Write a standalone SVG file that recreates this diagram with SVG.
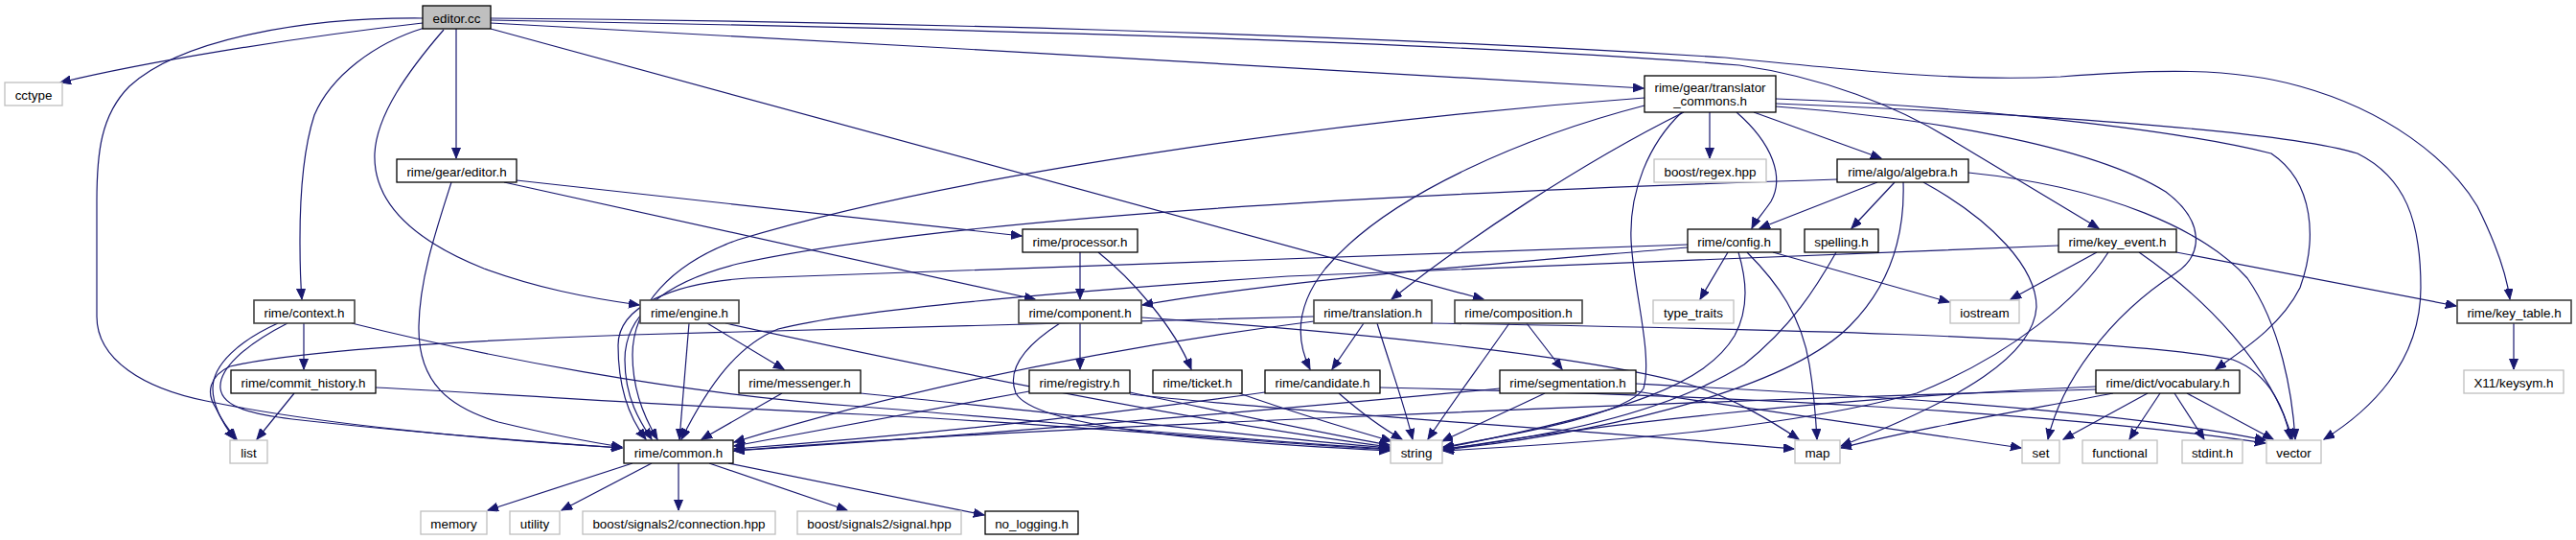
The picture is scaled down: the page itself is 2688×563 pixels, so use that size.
<svg xmlns="http://www.w3.org/2000/svg" width="2688" height="563" viewBox="0 0 2688 563">
<style>
text{font-family:"Liberation Sans",Arial,sans-serif;font-size:13.4px;text-anchor:middle;fill:#000}
.n rect{fill:#fff;stroke:#000;stroke-width:1.3}
.g rect{fill:#fff;stroke:#bfbfbf;stroke-width:1.3}
.d rect{fill:#fff;stroke:#404040;stroke-width:1.6}
.r rect{fill:#bfbfbf;stroke:#000;stroke-width:1.3}
#edges path{fill:none;stroke:#191970;stroke-width:1.2;marker-end:url(#a)}
</style>
<defs>
<marker id="a" markerWidth="12" markerHeight="10" refX="11" refY="4.5" orient="auto" markerUnits="userSpaceOnUse"><path d="M0,0 L11,4.5 L0,9 z" fill="#191970" stroke="#191970" stroke-width="1"/></marker>
</defs>
<rect width="2688" height="563" fill="#fff"/>
<g id="edges">
<path d="M441,24 C300,40 150,65 63,86"/>
<path d="M441,19 C320,18 190,40 135,90 C105,120 101,160 101,210 L101,330 C101,375 150,405 215,418 C330,442 500,458 649,467"/>
<path d="M443,29 C390,45 345,80 328,120 C315,160 313,210 313,250 C313,280 314,300 315,312"/>
<path d="M463,31 C425,75 393,120 391,160 C389,210 430,250 505,280 C560,300 610,310 667,318"/>
<path d="M476,30 L476,165"/>
<path d="M512,24 C900,44 1400,74 1715,92"/>
<path d="M512,30 L1548,312"/>
<path d="M512,21 C900,28 1500,42 1815,68 C1900,80 1980,110 2040,148 C2110,190 2160,220 2190,238"/>
<path d="M512,19 C900,22 1400,35 1800,60 C1950,75 2050,85 2150,80 C2250,72 2330,70 2400,90 C2490,115 2555,165 2585,215 C2605,255 2616,290 2619,312"/>
<path d="M471,190 C455,240 438,290 437,340 C436,400 470,425 520,440 C570,452 610,460 649,466"/>
<path d="M539,188 L1066,246"/>
<path d="M526,190 L1080,312"/>
<path d="M1127,263 L1127,312"/>
<path d="M1146,263 C1180,290 1225,340 1243,385"/>
<path d="M1127,337 L1127,385"/>
<path d="M1106,337 C1070,360 1050,385 1060,410 C1080,445 1250,460 1450,470"/>
<path d="M1191,331 C1400,345 1650,370 1760,400 C1810,415 1850,440 1877,458"/>
<path d="M1074,408 C950,430 850,450 766,465"/>
<path d="M1179,409 C1280,430 1380,452 1450,464"/>
<path d="M1179,411 C1350,430 1650,448 1872,468"/>
<path d="M1293,410 C1350,430 1410,448 1452,460"/>
<path d="M1397,410 C1420,430 1445,448 1463,458"/>
<path d="M1320,409 C1100,440 900,458 766,468"/>
<path d="M1440,404 C1800,412 2150,430 2364,462"/>
<path d="M1612,410 C1570,430 1530,448 1505,460"/>
<path d="M1565,405 C1300,430 1000,455 766,470"/>
<path d="M1707,408 C1850,430 2000,450 2109,467"/>
<path d="M1707,400 C1900,410 2200,425 2364,459"/>
<path d="M1423,337 L1390,385"/>
<path d="M1437,337 C1450,380 1465,420 1474,458"/>
<path d="M1371,330 C1100,337 850,345 660,349 C450,356 300,368 240,382 C218,392 215,410 225,425 C232,440 240,450 247,458"/>
<path d="M1371,335 C1100,370 900,420 766,461"/>
<path d="M1494,337 C1800,342 2200,350 2330,375 C2370,390 2385,430 2390,458"/>
<path d="M1575,337 C1545,380 1515,420 1490,458"/>
<path d="M1593,337 L1630,385"/>
<path d="M1803,263 L1774,312"/>
<path d="M1814,263 C1822,290 1826,320 1810,350 C1780,400 1700,430 1506,467"/>
<path d="M1823,263 C1855,295 1880,330 1888,380 C1893,410 1895,440 1896,458"/>
<path d="M1850,263 L2034,315"/>
<path d="M1761,258 C1600,272 1350,290 1192,318"/>
<path d="M1761,255 L780,290 C700,295 645,320 645,360 C645,410 660,440 674,458"/>
<path d="M1784,117 L1784,165"/>
<path d="M1812,117 C1850,150 1862,185 1848,210 C1840,222 1832,230 1828,238"/>
<path d="M1830,117 L1963,165"/>
<path d="M1755,117 C1720,150 1700,200 1702,250 C1704,300 1725,370 1715,405 C1700,430 1600,450 1506,466"/>
<path d="M1716,102 C1400,125 1000,180 770,250 C700,275 660,320 660,370 C660,410 675,440 686,458"/>
<path d="M1757,117 C1650,170 1530,250 1452,312"/>
<path d="M1716,110 C1600,140 1450,200 1383,280 C1355,315 1350,350 1367,385"/>
<path d="M1853,103 C2000,108 2250,130 2370,160 C2415,190 2418,250 2400,300 C2380,340 2340,365 2312,385"/>
<path d="M1853,108 C2100,118 2380,135 2460,160 C2510,185 2526,230 2526,300 C2526,380 2470,430 2425,458"/>
<path d="M1853,111 C2000,122 2180,150 2260,200 C2300,230 2300,265 2270,285 C2200,330 2150,400 2137,458"/>
<path d="M1959,190 L1836,238"/>
<path d="M1977,190 L1932,238"/>
<path d="M1986,190 C1988,250 1970,300 1930,340 C1870,400 1700,448 1506,469"/>
<path d="M1917,187 C1500,200 1000,225 770,275 C690,295 652,330 652,375 C652,415 668,440 680,458"/>
<path d="M2007,190 C2080,230 2125,280 2125,320 C2122,370 2050,415 1921,465"/>
<path d="M2054,180 C2200,195 2300,240 2345,290 C2380,340 2392,410 2395,458"/>
<path d="M1916,263 C1895,300 1870,340 1820,380 C1740,430 1620,455 1506,468"/>
<path d="M2188,263 L2098,312"/>
<path d="M2200,263 C2170,310 2100,370 2000,410 C1850,450 1650,462 1506,470"/>
<path d="M2232,263 C2300,310 2370,380 2392,458"/>
<path d="M2271,263 L2563,319"/>
<path d="M2148,256 L1344,288 C1170,300 900,320 812,343 C770,360 740,400 711,458"/>
<path d="M2623,337 L2623,385"/>
<path d="M2241,410 L2153,458"/>
<path d="M2254,410 L2222,458"/>
<path d="M2269,410 L2300,458"/>
<path d="M2282,410 L2372,458"/>
<path d="M2205,410 C2100,430 2000,447 1921,467"/>
<path d="M2187,403 C1900,415 1650,445 1506,469"/>
<path d="M2187,406 C1700,420 1000,450 766,470"/>
<path d="M816,410 L732,458"/>
<path d="M898,410 C1100,430 1300,455 1450,467"/>
<path d="M719,337 L709,458"/>
<path d="M738,337 L818,385"/>
<path d="M757,337 C1000,390 1250,440 1450,466"/>
<path d="M290,337 C250,355 222,380 222,405 C222,425 235,445 245,458"/>
<path d="M300,337 C255,360 228,385 230,405 C232,425 265,432 305,437 C420,450 550,460 649,467"/>
<path d="M317,337 L317,385"/>
<path d="M367,337 C500,370 700,410 900,424 C1100,440 1300,460 1450,468"/>
<path d="M307,410 L268,458"/>
<path d="M392,404 C550,412 680,422 900,432 C1100,442 1300,460 1450,469"/>
<path d="M660,483 L509,532"/>
<path d="M680,483 L586,532"/>
<path d="M708,483 L708,532"/>
<path d="M740,483 L884,532"/>
<path d="M760,483 L1027,537"/>
</g>
<g id="editor_cc" class="r"><rect x="441" y="6" width="71" height="24"/><text x="476.5" y="23.5">editor.cc</text></g>
<g id="cctype" class="g"><rect x="5" y="86" width="60" height="24"/><text x="35" y="103.5">cctype</text></g>
<g id="gear_editor_h" class="n"><rect x="414" y="166" width="125" height="24"/><text x="476.5" y="183.5">rime/gear/editor.h</text></g>
<g id="context_h" class="d"><rect x="265" y="313" width="105" height="24"/><text x="317.5" y="330.5">rime/context.h</text></g>
<g id="commit_history_h" class="n"><rect x="241" y="386" width="151" height="24"/><text x="316.5" y="403.5">rime/commit_history.h</text></g>
<g id="list" class="g"><rect x="240" y="459" width="39" height="24"/><text x="259.5" y="476.5">list</text></g>
<g id="common_h" class="n"><rect x="651" y="459" width="114" height="24"/><text x="708" y="476.5">rime/common.h</text></g>
<g id="memory" class="g"><rect x="439" y="533" width="69" height="24"/><text x="473.5" y="550.5">memory</text></g>
<g id="utility" class="g"><rect x="532" y="533" width="52" height="24"/><text x="558" y="550.5">utility</text></g>
<g id="connection_hpp" class="g"><rect x="608" y="533" width="201" height="24"/><text x="708.5" y="550.5">boost/signals2/connection.hpp</text></g>
<g id="signal_hpp" class="g"><rect x="832" y="533" width="171" height="24"/><text x="917.5" y="550.5">boost/signals2/signal.hpp</text></g>
<g id="no_logging_h" class="n"><rect x="1028" y="533" width="97" height="24"/><text x="1076.5" y="550.5">no_logging.h</text></g>
<g id="engine_h" class="d"><rect x="668" y="313" width="103" height="24"/><text x="719.5" y="330.5">rime/engine.h</text></g>
<g id="messenger_h" class="n"><rect x="771" y="386" width="127" height="24"/><text x="834.5" y="403.5">rime/messenger.h</text></g>
<g id="processor_h" class="n"><rect x="1067" y="239" width="120" height="24"/><text x="1127" y="256.5">rime/processor.h</text></g>
<g id="component_h" class="d"><rect x="1063" y="313" width="128" height="24"/><text x="1127" y="330.5">rime/component.h</text></g>
<g id="registry_h" class="n"><rect x="1074" y="386" width="105" height="24"/><text x="1126.5" y="403.5">rime/registry.h</text></g>
<g id="ticket_h" class="n"><rect x="1203" y="386" width="93" height="24"/><text x="1249.5" y="403.5">rime/ticket.h</text></g>
<g id="candidate_h" class="n"><rect x="1320" y="386" width="120" height="24"/><text x="1380" y="403.5">rime/candidate.h</text></g>
<g id="translator_commons_h" class="n"><rect x="1716" y="79" width="137" height="38"/><text x="1784.5" y="96">rime/gear/translator</text><text x="1784.5" y="110">_commons.h</text></g>
<g id="regex_hpp" class="g"><rect x="1726" y="166" width="117" height="24"/><text x="1784.5" y="183.5">boost/regex.hpp</text></g>
<g id="algebra_h" class="n"><rect x="1917" y="166" width="137" height="24"/><text x="1985.5" y="183.5">rime/algo/algebra.h</text></g>
<g id="config_h" class="n"><rect x="1761" y="239" width="97" height="24"/><text x="1809.5" y="256.5">rime/config.h</text></g>
<g id="spelling_h" class="n"><rect x="1883" y="239" width="77" height="24"/><text x="1921.5" y="256.5">spelling.h</text></g>
<g id="translation_h" class="d"><rect x="1371" y="313" width="123" height="24"/><text x="1432.5" y="330.5">rime/translation.h</text></g>
<g id="composition_h" class="d"><rect x="1518" y="313" width="133" height="24"/><text x="1584.5" y="330.5">rime/composition.h</text></g>
<g id="type_traits" class="g"><rect x="1725" y="313" width="84" height="24"/><text x="1767" y="330.5">type_traits</text></g>
<g id="segmentation_h" class="n"><rect x="1565" y="386" width="142" height="24"/><text x="1636" y="403.5">rime/segmentation.h</text></g>
<g id="string" class="g"><rect x="1451" y="459" width="54" height="24"/><text x="1478" y="476.5">string</text></g>
<g id="map" class="g"><rect x="1873" y="459" width="47" height="24"/><text x="1896.5" y="476.5">map</text></g>
<g id="key_event_h" class="n"><rect x="2148" y="239" width="123" height="24"/><text x="2209.5" y="256.5">rime/key_event.h</text></g>
<g id="iostream" class="g"><rect x="2035" y="313" width="72" height="24"/><text x="2071" y="330.5">iostream</text></g>
<g id="key_table_h" class="d"><rect x="2564" y="313" width="119" height="24"/><text x="2623.5" y="330.5">rime/key_table.h</text></g>
<g id="keysym_h" class="g"><rect x="2571" y="386" width="104" height="24"/><text x="2623" y="403.5">X11/keysym.h</text></g>
<g id="vocabulary_h" class="n"><rect x="2187" y="386" width="150" height="24"/><text x="2262" y="403.5">rime/dict/vocabulary.h</text></g>
<g id="set" class="g"><rect x="2110" y="459" width="39" height="24"/><text x="2129.5" y="476.5">set</text></g>
<g id="functional" class="g"><rect x="2173" y="459" width="78" height="24"/><text x="2212" y="476.5">functional</text></g>
<g id="stdint_h" class="g"><rect x="2277" y="459" width="63" height="24"/><text x="2308.5" y="476.5">stdint.h</text></g>
<g id="vector" class="g"><rect x="2365" y="459" width="57" height="24"/><text x="2393.5" y="476.5">vector</text></g>
</svg>
